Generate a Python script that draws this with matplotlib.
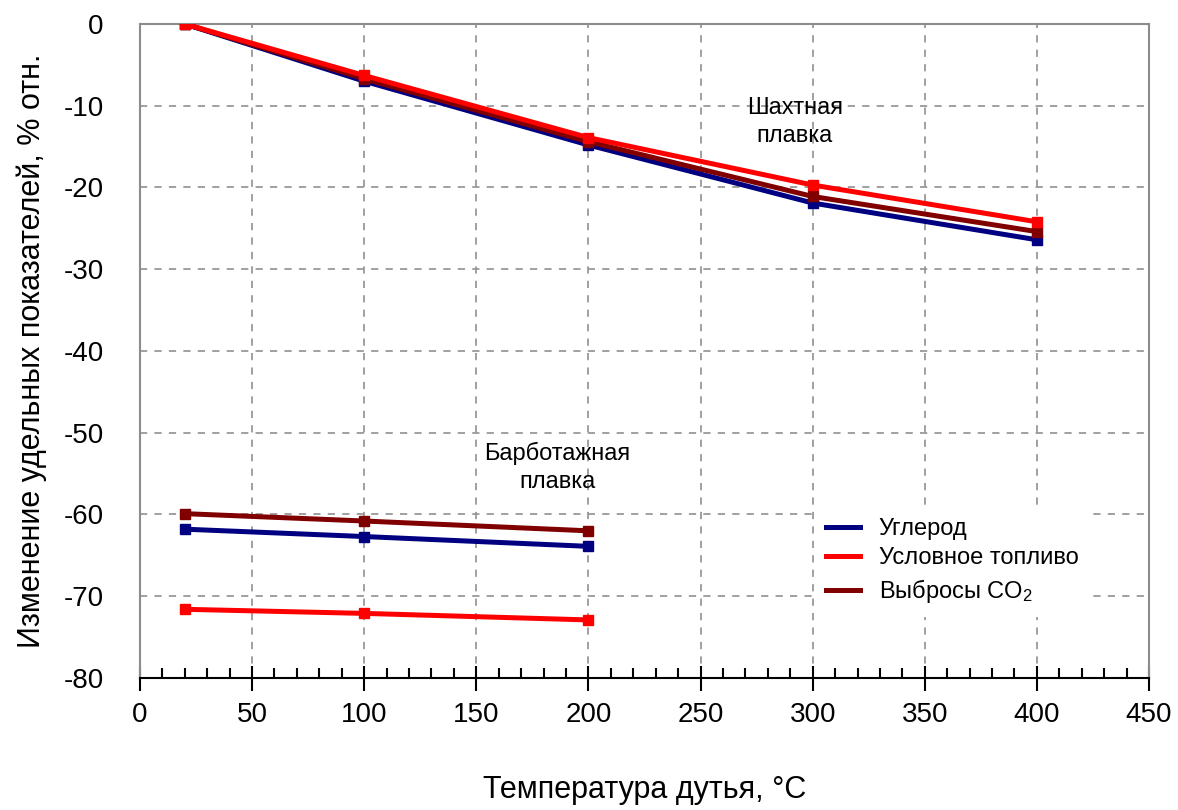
import matplotlib
matplotlib.use("Agg")
import matplotlib.pyplot as plt
from matplotlib.ticker import MultipleLocator
from matplotlib.lines import Line2D

plt.rcParams['font.family'] = ['Liberation Sans', 'DejaVu Sans']
plt.rcParams['mathtext.default'] = 'regular'
plt.rcParams['axes.unicode_minus'] = False

# blast temperature, C
t_shaft = [20, 100, 200, 300, 400]
t_bubble = [20, 100, 200]

# shaft smelting
carbon_shaft = [0, -7.0, -14.8, -21.9, -26.4]
fuel_shaft = [0, -6.3, -13.9, -19.7, -24.2]
co2_shaft = [0, -6.7, -14.4, -21.1, -25.4]

# bubbling smelting
carbon_bubble = [-61.8, -62.7, -63.9]
fuel_bubble = [-71.6, -72.1, -72.9]
co2_bubble = [-59.9, -60.8, -62.0]

labels = ['Углерод', 'Условное топливо', 'Выбросы CO$_2$']
colors = ['#000080', '#FF0000', '#800000']

fig = plt.figure(figsize=(11.78, 8.10), dpi=100)
ax = fig.add_axes([0.1188, 0.163, 0.8566, 0.8074])

kw = dict(lw=3.6, marker='s', ms=7)
ax.plot(t_shaft, carbon_shaft, color=colors[0], zorder=3, **kw)
ax.plot(t_shaft, co2_shaft, color=colors[2], zorder=4, **kw)
ax.plot(t_shaft, fuel_shaft, color=colors[1], zorder=5, **kw)
ax.plot(t_bubble, carbon_bubble, color=colors[0], zorder=3, **kw)
ax.plot(t_bubble, co2_bubble, color=colors[2], zorder=4, **kw)
ax.plot(t_bubble, fuel_bubble, color=colors[1], zorder=5, **kw)

ax.set_xlim(0, 450)
ax.set_ylim(-80, 0)
ax.xaxis.set_major_locator(MultipleLocator(50))
ax.xaxis.set_minor_locator(MultipleLocator(10))
ax.yaxis.set_major_locator(MultipleLocator(10))

ax.grid(True, which='major', color='#999999', linestyle=(0, (4, 4)), lw=1.3)

for s in ['top', 'right', 'left']:
    ax.spines[s].set_color('#8c8c8c')
    ax.spines[s].set_linewidth(1.5)
ax.spines['bottom'].set_color('black')
ax.spines['bottom'].set_linewidth(1.5)

ax.tick_params(axis='x', which='major', direction='inout', length=18, width=1.5,
               labelsize=20, pad=8)
ax.tick_params(axis='x', which='minor', direction='in', length=7, width=1.5)
ax.tick_params(axis='y', which='major', length=0, labelsize=20, pad=26)

ax.set_xlabel('Температура дутья, °C', fontsize=22, labelpad=34)
ax.set_ylabel('Изменение удельных показателей, % отн.', fontsize=22, labelpad=12)

ax.text(292, -12.0, 'Шахтная\nплавка', ha='center', va='center', fontsize=17,
        linespacing=1.35)
ax.text(186, -54.2, 'Барботажная\nплавка', ha='center', va='center', fontsize=17,
        linespacing=1.35)

handles = [Line2D([], [], color=c, lw=3.6) for c in colors]
leg = ax.legend(handles, labels, loc='upper left', bbox_to_anchor=(0.656, 0.281),
                frameon=True, fancybox=False, fontsize=17, handlelength=1.45,
                handletextpad=0.8, labelspacing=0.32, borderpad=0.5)
leg.get_frame().set_facecolor('white')
leg.get_frame().set_edgecolor('none')
leg.get_frame().set_alpha(1)

fig.savefig('out.png', dpi=100)
